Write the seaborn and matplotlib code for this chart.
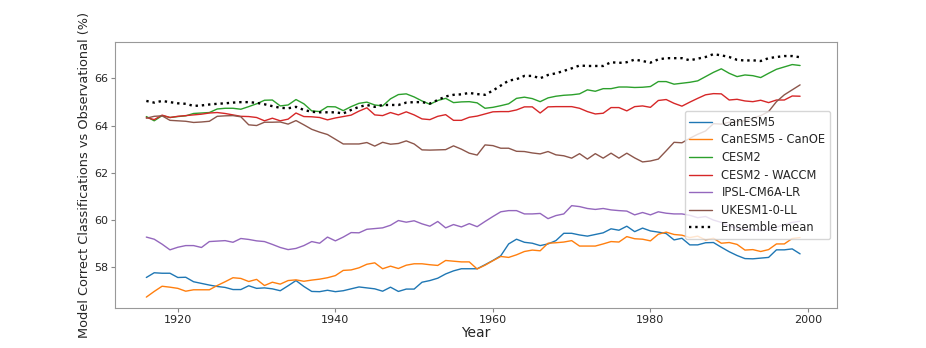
import numpy as np
import pandas as pd
import matplotlib
matplotlib.use("Agg")
import matplotlib.pyplot as plt
import seaborn as sns

# Years covered by every series
years = list(range(1916, 2000))

# Percent of correct classifications
canesm5 = [57.57, 57.77, 57.75, 57.75, 57.57, 57.58, 57.39, 57.32, 57.25, 57.19,
           57.15, 57.06, 57.06, 57.22, 57.11, 57.13, 57.09, 57.01, 57.22, 57.44,
           57.19, 56.98, 56.97, 57.03, 56.97, 57.01, 57.09, 57.17, 57.13, 57.09,
           56.99, 57.16, 56.98, 57.08, 57.08, 57.37, 57.44, 57.54, 57.72, 57.85,
           57.94, 57.94, 57.94, 58.11, 58.29, 58.49, 58.99, 59.19, 59.06, 59.02,
           58.92, 58.99, 59.13, 59.44, 59.44, 59.37, 59.32, 59.39, 59.46, 59.63,
           59.57, 59.74, 59.51, 59.66, 59.54, 59.49, 59.43, 59.16, 59.23, 58.95,
           58.95, 59.04, 59.05, 58.85, 58.66, 58.50, 58.37, 58.36, 58.39, 58.42,
           58.74, 58.74, 58.78, 58.57]

canesm5_canoe = [56.74, 56.98, 57.20, 57.16, 57.11, 56.99, 57.05, 57.05, 57.05, 57.23,
                 57.39, 57.56, 57.53, 57.40, 57.49, 57.23, 57.37, 57.29, 57.44, 57.47,
                 57.41, 57.46, 57.50, 57.56, 57.65, 57.87, 57.89, 57.98, 58.13, 58.19,
                 57.94, 58.05, 57.95, 58.09, 58.15, 58.15, 58.11, 58.08, 58.29, 58.26,
                 58.23, 58.23, 57.93, 58.09, 58.28, 58.46, 58.42, 58.53, 58.67, 58.73,
                 58.70, 59.02, 59.04, 59.07, 59.13, 58.90, 58.90, 58.90, 58.99, 59.09,
                 59.07, 59.30, 59.21, 59.19, 59.12, 59.40, 59.49, 59.39, 59.36, 59.26,
                 59.32, 59.16, 59.23, 59.02, 59.05, 58.97, 58.73, 58.75, 58.67, 58.75,
                 58.99, 58.99, 59.22, 59.26]

cesm2 = [64.38, 64.20, 64.42, 64.34, 64.38, 64.41, 64.51, 64.53, 64.55, 64.70,
         64.73, 64.73, 64.69, 64.80, 64.92, 65.07, 65.08, 64.83, 64.87, 65.10,
         64.92, 64.62, 64.59, 64.80, 64.79, 64.63, 64.80, 64.94, 64.99, 64.87,
         64.83, 65.13, 65.31, 65.34, 65.21, 65.04, 64.90, 65.06, 65.15, 64.97,
         65.00, 65.01, 64.96, 64.73, 64.77, 64.84, 64.92, 65.15, 65.20, 65.14,
         65.01, 65.17, 65.24, 65.28, 65.30, 65.34, 65.51, 65.45, 65.56, 65.56,
         65.63, 65.63, 65.61, 65.62, 65.65, 65.86, 65.86, 65.75, 65.79, 65.83,
         65.89, 66.07, 66.25, 66.40, 66.21, 66.07, 66.14, 66.11, 66.03, 66.21,
         66.38, 66.48, 66.58, 66.54]

cesm2_waccm = [64.34, 64.25, 64.44, 64.34, 64.39, 64.42, 64.45, 64.48, 64.53, 64.55,
               64.51, 64.45, 64.39, 64.38, 64.34, 64.20, 64.31, 64.20, 64.27, 64.53,
               64.38, 64.37, 64.34, 64.24, 64.32, 64.38, 64.44, 64.61, 64.75, 64.45,
               64.42, 64.55, 64.45, 64.58, 64.45, 64.28, 64.25, 64.39, 64.46, 64.22,
               64.22, 64.35, 64.40, 64.49, 64.58, 64.59, 64.59, 64.66, 64.79, 64.79,
               64.53, 64.79, 64.80, 64.80, 64.80, 64.73, 64.59, 64.49, 64.52, 64.76,
               64.76, 64.62, 64.80, 64.83, 64.77, 65.06, 65.10, 64.94, 64.82, 64.99,
               65.15, 65.30, 65.35, 65.34, 65.08, 65.11, 65.04, 65.01, 65.07, 64.97,
               65.08, 65.08, 65.25, 65.24]

ipsl = [59.28, 59.19, 58.98, 58.74, 58.85, 58.92, 58.92, 58.84, 59.09, 59.11,
        59.13, 59.06, 59.22, 59.18, 59.12, 59.09, 58.97, 58.84, 58.75, 58.80,
        58.92, 59.09, 59.02, 59.28, 59.12, 59.28, 59.47, 59.46, 59.61, 59.64,
        59.67, 59.78, 59.98, 59.91, 59.97, 59.84, 59.74, 59.94, 59.67, 59.81,
        59.71, 59.85, 59.72, 59.94, 60.15, 60.35, 60.40, 60.40, 60.26, 60.26,
        60.28, 60.06, 60.19, 60.26, 60.61, 60.57, 60.49, 60.45, 60.49, 60.43,
        60.40, 60.38, 60.22, 60.32, 60.22, 60.35, 60.29, 60.26, 60.26, 60.20,
        60.10, 60.15, 60.00, 59.90, 59.75, 59.65, 59.60, 59.60, 59.55, 59.60,
        59.70, 59.80, 59.90, 59.95]

ukesm = [64.31, 64.39, 64.41, 64.22, 64.20, 64.18, 64.13, 64.15, 64.18, 64.39,
         64.41, 64.42, 64.37, 64.03, 64.00, 64.14, 64.14, 64.15, 64.06, 64.21,
         64.03, 63.84, 63.72, 63.62, 63.42, 63.22, 63.22, 63.22, 63.28, 63.13,
         63.29, 63.21, 63.24, 63.35, 63.22, 62.97, 62.96, 62.97, 62.98, 63.14,
         63.00, 62.83, 62.75, 63.18, 63.15, 63.04, 63.04, 62.91, 62.90, 62.84,
         62.80, 62.90, 62.76, 62.72, 62.62, 62.81, 62.58, 62.81, 62.62, 62.83,
         62.62, 62.83, 62.63, 62.46, 62.50, 62.58, 62.93, 63.29, 63.27, 63.46,
         63.63, 63.77, 64.08, 64.06, 64.14, 64.17, 64.21, 64.31, 64.42, 64.59,
         65.01, 65.30, 65.51, 65.72]

ensemble_mean = [65.04, 64.97, 65.04, 64.99, 64.94, 64.92, 64.83, 64.85, 64.89, 64.92,
                 64.94, 64.97, 64.99, 64.99, 64.96, 64.90, 64.82, 64.75, 64.73, 64.79,
                 64.66, 64.58, 64.56, 64.56, 64.56, 64.51, 64.66, 64.79, 64.87, 64.79,
                 64.87, 64.87, 64.87, 64.97, 64.99, 64.99, 64.93, 65.08, 65.23, 65.30,
                 65.32, 65.38, 65.33, 65.30, 65.48, 65.69, 65.90, 65.96, 66.10, 66.10,
                 66.00, 66.14, 66.21, 66.31, 66.42, 66.54, 66.52, 66.52, 66.52, 66.68,
                 66.65, 66.68, 66.79, 66.73, 66.66, 66.80, 66.85, 66.85, 66.85, 66.76,
                 66.83, 66.90, 67.02, 66.97, 66.90, 66.78, 66.75, 66.76, 66.73, 66.85,
                 66.90, 66.94, 66.94, 66.89]

model_names = ["CanESM5", "CanESM5 - CanOE", "CESM2", "CESM2 - WACCM",
               "IPSL-CM6A-LR", "UKESM1-0-LL"]
model_values = [canesm5, canesm5_canoe, cesm2, cesm2_waccm, ipsl, ukesm]

# Long-form table for seaborn
df = pd.concat([pd.DataFrame({"Year": years, "Score": vals, "Model": name})
                for name, vals in zip(model_names, model_values)],
               ignore_index=True)
df_mean = pd.DataFrame({"Year": years, "Score": ensemble_mean})

sns.set_style("white")
plt.rcParams["font.family"] = ["DejaVu Sans"]

fig = plt.figure(figsize=(9.26, 3.48), dpi=100)
ax = fig.add_axes([0.124, 0.115, 0.780, 0.764])

sns.lineplot(data=df, x="Year", y="Score", hue="Model", hue_order=model_names,
             palette="tab10", linewidth=1.0, ax=ax)
sns.lineplot(data=df_mean, x="Year", y="Score", color="black", linestyle=":",
             linewidth=1.7, label="Ensemble mean", ax=ax)

ax.set_ylim(56.28, 67.53)
ax.set_xlim(1912, 2003.7)
ax.set_yticks([58, 60, 62, 64, 66])
ax.set_xticks([1920, 1940, 1960, 1980, 2000])
ax.set_xlabel("Year", fontsize=10, labelpad=1)
ax.set_ylabel("Model Correct Classifications vs Observational (%)", fontsize=9.3, labelpad=2)
ax.tick_params(axis="both", labelsize=8, length=3, width=0.8, color="#888888",
               left=True, bottom=True, pad=2)
for s in ax.spines.values():
    s.set_color("#999999")
    s.set_linewidth(0.8)

ax.legend(loc="center right", fontsize=8.3, frameon=True, labelspacing=0.4,
          borderaxespad=0.6)

fig.savefig("out.png", dpi=100)
